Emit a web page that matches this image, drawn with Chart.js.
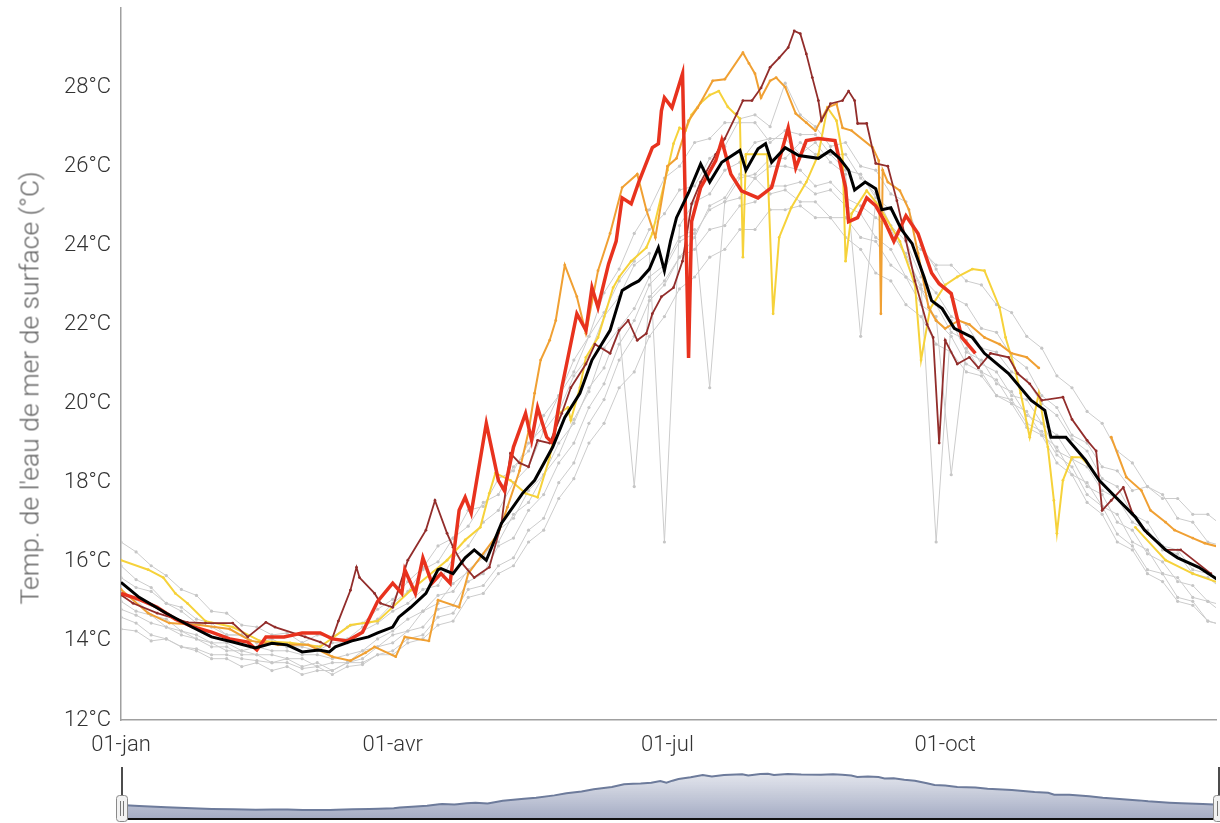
<!DOCTYPE html>
<html>
<head>
<meta charset="utf-8">
<script src="https://cdn.jsdelivr.net/npm/chart.js@4.4.1/dist/chart.umd.min.js"></script>
<style>
html, body { margin: 0; padding: 0; background: #fff; overflow: hidden; }
#wrap { position: relative; width: 1220px; height: 823px; }
#main { position: absolute; left: 0; top: 0; }
#nav { position: absolute; left: 0; top: 760px; }
#ytitle {
    position: absolute; left: 29px; top: 388px;
    transform: translate(-50%, -50%) rotate(-90deg);
    white-space: nowrap; font: 300 26.5px Roboto, sans-serif; color: #666;
}
</style>
</head>
<body>
<div id="wrap">
    <canvas id="main" width="1220" height="762"></canvas>
    <canvas id="nav" width="1220" height="63"></canvas>
    <div id="ytitle">Temp. de l'eau de mer de surface (°C)</div>
</div>
<script>
// Axes
const TICK_DAYS = [0, 90, 181, 273];
const TICK_LABELS = ['01-jan', '01-avr', '01-jul', '01-oct'];
const Y_TICKS = [12, 14, 16, 18, 20, 22, 24, 26, 28];

// Moyenne (noir)
const meanDays = [0,6,15,23.5,30,37,44.5,50,55,60,65.5,69,71,76.5,82,85,90,92,96,101,105,106,110,111,114,117,121,126,133,137,143,147,152,156,162,166,169,171.5,175,178,180,182,184,188,192,195,199,205,207,211,213.5,215.5,220,224.5,231,235,238,241,243,246.5,250,252,255,258.5,262,266,268.5,272,276,282,286,294,301.5,306,308,313,319.5,324,329.5,336,339,346,350,357,363.5,365];
const meanTemps = [15.48,15.1,14.7,14.35,14.1,13.97,13.82,13.94,13.9,13.72,13.77,13.72,13.85,14.0,14.1,14.2,14.35,14.6,14.85,15.2,15.8,15.83,15.7,15.8,16.1,16.3,16.04,16.97,17.73,18.06,18.9,19.65,20.26,21.1,21.85,22.86,23.0,23.1,23.4,23.94,23.36,24.1,24.7,25.33,26.06,25.6,26.1,26.4,25.9,26.44,26.57,26.1,26.47,26.27,26.2,26.4,26.2,25.9,25.4,25.6,25.43,24.9,24.95,24.4,24.05,23.2,22.6,22.4,21.9,21.67,21.27,20.76,20.08,19.83,19.15,19.15,18.57,18.06,17.63,17.13,16.8,16.3,16.1,15.86,15.54,15.5];

// Grille tous les 5 jours pour les années grises
const DAYS5 = [0,5,10,15,20,25,30,35,40,45,50,55,60,65,70,75,80,85,90,95,100,105,110,115,120,125,130,135,140,145,150,155,160,165,170,175,180,185,190,195,200,205,210,215,220,225,230,235,240,245,250,255,260,265,270,275,280,285,290,295,300,305,310,315,320,325,330,335,340,345,350,355,360,365];

const grey1 = [16.5,16.25,15.9,15.65,15.3,15.15,14.75,14.7,14.4,14.35,
    14.15,14.2,13.95,14.15,14.1,14.35,14.45,14.8,15.05,15.5,
    15.85,16.4,16.6,17.3,17.4,18.1,18.3,19.0,19.4,20.2,
    20.8,21.7,22.3,23.1,23.6,24.4,24.8,25.4,25.5,26.2,
    26.5,27.2,27.3,27.0,28.1,27.3,27.0,26.5,26.6,26.0,
    25.9,25.3,25.1,24.0,23.4,22.7,22.5,21.9,21.8,21.2,
    20.9,20.2,19.9,19.2,19.0,18.4,18.3,17.8,17.9,17.6,
    17.6,17.2,17.2,16.9];
const grey2 = [14.3,14.25,14.0,14.05,13.85,13.8,13.65,13.65,13.55,13.5,
    13.45,13.45,13.3,13.35,13.15,13.35,13.4,13.65,13.65,13.95,
    14.05,14.4,14.5,15.1,15.2,15.7,15.9,16.5,16.8,17.6,
    18.1,19.0,19.5,20.4,20.8,21.7,22.2,22.9,23.2,23.7,
    23.9,24.4,24.4,24.9,24.9,25.0,24.7,24.7,24.2,23.9,
    23.3,23.1,22.5,22.2,21.5,21.3,20.8,20.7,20.2,20.1,
    19.5,19.3,18.7,18.4,17.7,17.4,16.7,16.4,15.8,15.7,
    15.1,15.0,14.5,14.4];
const grey3 = [15.0,14.75,14.65,14.35,14.25,14.05,13.95,13.75,13.75,13.65,
    13.65,13.55,13.55,13.35,13.45,13.45,13.75,13.85,14.15,14.25,
    14.75,14.95,15.45,15.75,16.2,16.5,17.2,17.5,18.2,18.7,
    19.6,20.3,21.4,21.9,17.9,22.7,23.1,23.7,24.2,25.0,
    25.2,25.8,25.7,26.0,26.0,25.9,25.5,25.6,25.2,25.0,
    24.7,24.4,23.7,23.0,16.5,22.1,21.3,21.1,20.5,20.3,
    19.7,19.5,18.8,18.6,17.9,17.7,17.0,16.8,16.2,16.0,
    15.5,15.4,15.0,14.9];
const grey4 = [15.6,15.35,15.25,14.95,14.75,14.45,14.35,14.15,14.15,13.95,
    13.95,13.85,13.85,13.75,13.95,13.95,14.25,14.45,14.75,14.95,
    15.3,15.4,16.1,16.4,17.0,17.3,18.0,18.4,19.3,19.8,
    20.7,21.2,22.2,22.7,23.5,23.8,16.5,24.5,25.1,25.3,
    25.9,26.1,26.6,26.7,26.7,26.3,26.6,26.1,25.8,21.7,
    25.1,24.3,23.8,22.9,22.5,21.8,21.6,21.0,20.8,20.2,
    20.1,19.5,19.2,18.6,18.4,17.8,17.6,17.0,16.8,16.3,
    16.2,15.7,15.6,15.3];
const grey5 = [15.2,15.05,14.65,14.55,14.25,14.15,13.95,13.95,13.75,13.85,
    13.75,13.75,13.65,13.65,13.55,13.65,13.75,14.05,14.25,14.55,
    14.75,15.15,15.25,15.8,16.1,16.8,17.1,17.8,18.2,19.0,
    19.5,20.4,20.9,21.9,22.4,23.2,23.5,24.2,24.4,20.4,
    25.1,25.2,25.7,25.3,25.4,25.1,25.1,24.7,24.7,24.2,
    24.1,23.5,23.2,22.5,22.2,18.2,21.4,20.8,20.6,20.0,
    19.8,19.2,18.9,18.2,18.0,17.4,17.2,16.5,16.3,15.7,
    15.6,15.1,15.0,14.7];
const grey6 = [14.8,14.65,14.45,14.35,14.15,14.05,13.85,13.85,13.65,13.65,
    13.45,13.55,13.35,13.45,13.25,13.45,13.55,13.85,13.95,14.25,
    14.35,14.8,14.9,15.5,15.7,16.4,16.6,17.3,17.7,18.5,
    19.0,19.9,20.5,21.5,22.1,23.0,23.4,24.1,24.3,24.9,
    25.1,25.7,25.8,26.2,26.2,26.6,26.3,26.3,25.9,25.8,
    25.2,24.9,24.2,23.9,23.5,23.5,23.1,23.0,22.5,22.3,
    21.7,21.4,20.7,20.4,19.8,19.5,18.8,18.5,17.9,17.7,
    17.1,17.0,16.5,16.4];
const grey7 = [15.9,15.55,15.35,14.95,14.85,14.55,14.45,14.15,14.15,13.95,
    14.05,13.85,13.95,13.85,14.05,14.05,14.35,14.55,14.95,15.25,
    15.8,16.0,16.6,16.9,17.5,17.7,18.4,18.8,19.7,20.2,
    21.1,21.7,22.8,23.4,24.3,24.9,25.7,26.0,26.6,26.7,
    27.1,27.1,27.1,26.6,26.9,26.8,26.8,26.3,26.3,25.7,
    25.3,24.5,24.1,23.2,22.8,22.2,22.0,21.4,21.3,20.8,
    20.6,20.0,19.7,19.1,18.8,18.1,17.9,17.2,17.0,16.4,
    16.3,15.8,15.7,15.4];
const grey8 = [14.6,14.45,14.15,14.05,13.85,13.75,13.55,13.55,13.35,13.45,
    13.25,13.35,13.15,13.25,13.25,13.45,13.45,13.65,13.75,14.05,
    14.15,14.6,14.7,15.3,15.4,15.9,16.1,16.8,17.1,18.0,
    18.5,19.5,20.1,21.1,21.7,22.6,23.0,23.7,23.9,24.4,
    24.5,25.0,25.1,25.5,25.5,25.6,25.3,25.4,25.0,24.8,
    24.2,23.9,23.2,22.9,22.1,21.7,21.0,20.8,20.2,20.0,
    19.4,19.2,18.5,18.2,17.5,17.2,16.5,16.3,15.7,15.5,
    15.0,14.9,14.5,14.4];
const greySeries = [grey1, grey2, grey3, grey4, grey5, grey6, grey7, grey8];

// Année en cours (rouge)
const redDays = [0,6,12,18,24,30,36,42,45,48,54,60,66,70,75,80,85,90,93,94,97.5,100,103,106,109,112,114,116,121,125,127,130,134,136,138,141,143,146,151,154,156,158,161.5,164,166,169,171.5,176,178,179,180,182.5,186,188,189,192,197,199,202,205.5,211,215.5,221,223.5,227,231,236.5,240,241,244,247,250,253,256,260,264,268.5,271,275,278.5,283];
const redTemps = [15.2,15.05,14.85,14.55,14.35,14.22,14.05,13.97,13.77,14.1,14.1,14.2,14.2,14.05,14.0,14.22,15.0,15.46,15.2,15.8,15.2,16.1,15.46,15.7,15.46,17.3,17.63,17.23,19.5,18.06,17.8,18.9,19.75,19.07,19.9,19.15,19.0,20.4,22.27,21.85,22.93,22.43,23.53,24.1,25.2,25.05,25.6,26.47,26.57,27.4,27.73,27.48,28.34,21.15,24.6,25.46,26.14,26.65,25.8,25.38,25.2,25.46,26.97,25.96,26.65,26.7,26.65,25.46,24.6,24.7,25.2,25.0,24.6,24.1,24.75,24.3,23.3,23.03,22.78,21.67,21.27];

// Année (brun)
const brownDays = [0,4,12,22,28,37,42,48,51,61,66,69,72,76,78,79,84,86,90,95,101,104,108,110,113,117,122,126,129,132,135,138,142,146,149,154,157,162,165,168,171,174,176,179,183,186,189,192,197,200,204,206,209,212,215,218,221,223,225,227,229,231,232,235,239,241,243,244,247,250,254,257,260,263,267,269,271,273,277,281,284,288,294,297,301,305,312,315,320,323,325,328,332,335,340,346,351,361];
const brownTemps = [15.16,14.95,14.7,14.47,14.45,14.45,14.1,14.47,14.35,14.1,13.97,13.85,14.5,15.28,15.86,15.6,15.2,14.95,14.85,16.04,16.8,17.55,16.72,16.37,15.96,15.6,15.86,16.97,18.74,18.5,18.4,19.07,19.0,19.75,20.4,21.0,21.5,21.27,21.85,22.1,21.6,21.77,22.27,22.7,22.93,23.6,25.05,25.6,26.3,26.7,27.33,27.66,27.66,27.98,28.5,28.74,29.0,29.42,29.35,28.84,28.24,27.66,27.15,27.58,27.66,27.9,27.66,27.08,27.08,26.07,26.0,25.13,24.12,23.1,22.0,21.67,19.0,21.6,21.0,21.17,20.9,21.27,21.17,20.76,20.5,20.08,20.16,19.6,19.07,18.8,17.3,17.55,17.88,17.23,16.72,16.3,16.3,15.7];

// Année (orange), trou de données en novembre
const orangeDays = [0,9,16,26,36,43,52,62,70,76,81,84,91,94,102,105,112,115,125,128,132,135,137,139,142,144,147,151,154,158,162,166,171,174,177,181,184,188,191,196,200,206,208,210,212,215,217,220,223.5,227,230,234,237,239,242,249,251,251.7,252.3,254,258,261,264,267.5,270,273,277.5,281,286,291,295,300,304,315,328,333,338,341,346,349,355,359,364];
const orangeTemps = [15.3,14.7,14.45,14.4,14.3,14.0,13.9,13.9,13.6,13.5,13.7,13.85,13.6,14.1,14.0,15.03,14.85,15.7,16.72,17.38,18.3,19.3,20.26,21.1,21.6,22.1,23.5,22.7,21.77,23.36,24.3,25.46,25.8,24.9,24.2,26.0,26.2,27.15,27.48,28.16,28.2,28.87,28.6,28.34,27.73,28.16,28.24,28.0,27.33,27.1,26.9,27.48,27.58,26.97,26.9,26.47,26.14,22.27,25.9,25.6,25.38,24.9,23.8,22.43,22.1,21.9,22.1,22.0,21.67,21.5,21.27,21.17,20.9,null,19.15,18.14,17.8,17.3,17.0,16.8,16.6,16.47,16.37];

// Année (jaune), trou de données en novembre
const yellowDays = [0,9,14,18,22,28,37,46,56,66,76,85,96,108,114,119,122,124,129,134,138,142,145,148,149,152,154,158,163,165,169,174,176,181,183,185,187,189,192,195,198,201,205,206,207,214,216,218,222,227,231,234,237,239,240,242,247,251,258,263,265,268,273,277,282,286,291,293,296,298,301,304,307,309,310,312,315,318,321,328,336,346,355,364];
const yellowTemps = [16.04,15.8,15.6,15.2,14.95,14.5,14.35,14.0,13.95,13.85,14.4,14.5,15.28,16.04,16.55,16.87,17.73,18.24,18.06,17.73,17.63,18.64,19.75,19.9,19.58,20.4,21.17,21.67,22.93,23.2,23.6,23.94,24.3,25.9,26.57,26.97,26.9,27.3,27.6,27.8,27.9,27.5,27.2,23.7,26.3,26.3,22.27,24.2,24.95,25.6,26.3,27.48,27.15,26.3,23.6,24.8,25.38,25.0,24.1,23.0,21.1,22.4,23.0,23.2,23.4,23.36,22.43,21.67,20.9,20.26,19.15,20.26,18.9,17.55,16.72,18.06,18.64,18.64,18.4,null,16.87,16.04,15.7,15.46];

const X_MAX = 362.7;
const FONT = 'Roboto, sans-serif';

const pts = (days, temps) => days.map((d, i) => ({ x: d, y: temps[i] }));

function thinLine(label, days, temps, color, order, width) {
    return {
        label: label,
        data: pts(days, temps),
        borderColor: color,
        backgroundColor: color,
        borderWidth: width,
        pointRadius: 1.4,
        pointBorderWidth: 0,
        pointBackgroundColor: color,
        tension: 0,
        spanGaps: false,
        order: order
    };
}

const datasets = [];
greySeries.forEach((g, i) => {
    const ds = thinLine('Année ' + (i + 1), DAYS5, g, '#cccccc', 10 + i, 1);
    ds.pointBackgroundColor = '#c6c6c6';
    ds.pointRadius = 1.6;
    datasets.push(ds);
});
datasets.push(thinLine('Jaune', yellowDays, yellowTemps, '#f6d23a', 5, 2));
datasets.push(thinLine('Orange', orangeDays, orangeTemps, '#f0a033', 4, 2));
datasets.push(thinLine('Brun', brownDays, brownTemps, '#922d2b', 3, 1.8));
datasets.push({
    label: 'Année en cours',
    data: pts(redDays, redTemps),
    borderColor: '#e8321e',
    borderWidth: 3.5,
    pointRadius: 0,
    tension: 0,
    order: 1
});
datasets.push({
    label: 'Moyenne',
    data: pts(meanDays, meanTemps),
    borderColor: '#000000',
    borderWidth: 3,
    pointRadius: 0,
    tension: 0,
    order: 0
});

// Main chart
new Chart(document.getElementById('main'), {
    type: 'line',
    data: { datasets: datasets },
    options: {
        responsive: false,
        animation: false,
        devicePixelRatio: 1,
        events: [],
        layout: { padding: { top: 8, left: 0, right: 0, bottom: 0 } },
        plugins: { legend: { display: false }, tooltip: { enabled: false } },
        scales: {
            x: {
                type: 'linear',
                min: 0,
                max: X_MAX,
                grid: { display: false, drawTicks: false },
                border: { display: true, color: '#a0a0a0', width: 1.5 },
                afterBuildTicks: (s) => { s.ticks = TICK_DAYS.map(v => ({ value: v })); },
                afterFit: (s) => { s.height = 42; },
                ticks: {
                    padding: 12,
                    color: '#333',
                    font: { family: FONT, size: 22, weight: '300' },
                    callback: (v) => TICK_LABELS[TICK_DAYS.indexOf(v)] || ''
                }
            },
            y: {
                min: 12,
                max: 30,
                grid: { display: false, drawTicks: false },
                border: { display: true, color: '#a0a0a0', width: 1.5 },
                afterBuildTicks: (s) => { s.ticks = Y_TICKS.map(v => ({ value: v })); },
                afterFit: (s) => { s.width = 121; s.paddingTop = 0; s.paddingBottom = 0; },
                ticks: {
                    padding: 10,
                    color: '#333',
                    font: { family: FONT, size: 22, weight: '300' },
                    callback: (v) => v + '°C'
                }
            }
        }
    }
});

// Navigator handles
const handlesPlugin = {
    id: 'handles',
    afterDraw(chart) {
        const ctx = chart.ctx;
        const a = chart.chartArea;
        ctx.save();
        ctx.strokeStyle = '#111';
        ctx.lineWidth = 2;
        ctx.beginPath();
        ctx.moveTo(a.left, 59);
        ctx.lineTo(1220, 59);
        ctx.stroke();
        [a.left + 1, 1219].forEach(x => {
            ctx.strokeStyle = '#111';
            ctx.lineWidth = 1.5;
            ctx.beginPath();
            ctx.moveTo(x, 7);
            ctx.lineTo(x, 35);
            ctx.stroke();
            ctx.fillStyle = '#f2f2f2';
            ctx.strokeStyle = '#8a8a8a';
            ctx.lineWidth = 1;
            ctx.beginPath();
            ctx.roundRect(x - 5.5, 35.5, 11, 26, 3);
            ctx.fill();
            ctx.stroke();
            ctx.strokeStyle = '#777';
            ctx.beginPath();
            ctx.moveTo(x - 1.5, 41); ctx.lineTo(x - 1.5, 56);
            ctx.moveTo(x + 1.5, 41); ctx.lineTo(x + 1.5, 56);
            ctx.stroke();
        });
        ctx.restore();
    }
};

new Chart(document.getElementById('nav'), {
    type: 'line',
    data: {
        datasets: [{
            data: pts(meanDays, meanTemps),
            borderColor: '#6d7b9b',
            borderWidth: 2,
            pointRadius: 0,
            tension: 0,
            fill: 'start',
            backgroundColor: (c) => {
                const a = c.chart.chartArea;
                if (!a) return 'rgba(110,122,160,0.3)';
                const g = c.chart.ctx.createLinearGradient(0, a.top, 0, a.bottom);
                g.addColorStop(0, 'rgba(110,122,160,0.08)');
                g.addColorStop(1, 'rgba(110,122,160,0.62)');
                return g;
            }
        }]
    },
    options: {
        responsive: false,
        animation: false,
        devicePixelRatio: 1,
        events: [],
        layout: { padding: { top: 2, left: 121, right: 0, bottom: 5 } },
        plugins: { legend: { display: false }, tooltip: { enabled: false } },
        scales: {
            x: { type: 'linear', display: false, min: 0, max: X_MAX },
            y: { display: false, min: 10.9, max: 30.7 }
        }
    },
    plugins: [handlesPlugin]
});
</script>
</body>
</html>
